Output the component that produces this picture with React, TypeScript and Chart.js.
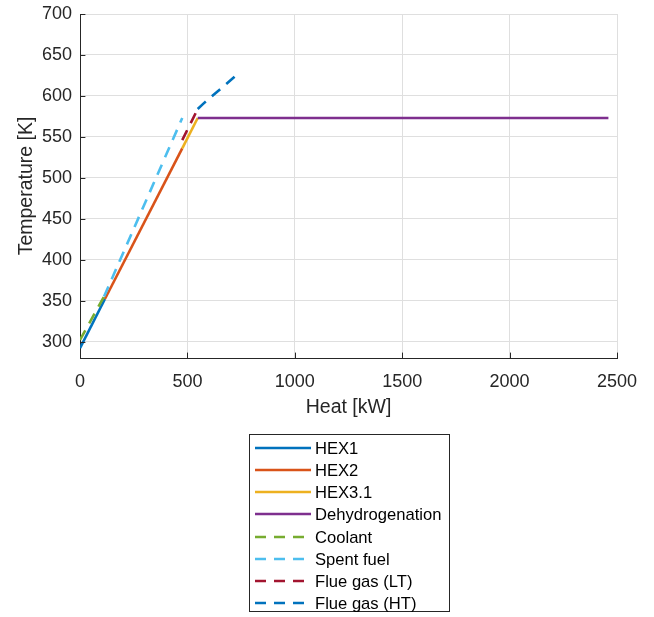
import React, { useEffect, useRef } from "react";
import { Chart, registerables } from "chart.js";

Chart.register(...registerables);

// ---- data ----
const hex1Heat = [0, 116];
const hex1Temp = [292, 352];
const hex2Heat = [116, 476];
const hex2Temp = [352, 536];
const hex31Heat = [476, 548];
const hex31Temp = [536, 573];
const dehydHeat = [548, 2460];
const dehydTemp = [573, 573];
const coolantHeat = [0, 112];
const coolantTemp = [302, 355];
const spentHeat = [112, 476];
const spentTemp = [355, 573];
const flueLTHeat = [476, 548];
const flueLTTemp = [546, 584];
const flueHTHeat = [548, 572, 720];
const flueHTTemp = [584, 590, 623.5];

const xTicks = [0, 500, 1000, 1500, 2000, 2500];
const yTicks = [300, 350, 400, 450, 500, 550, 600, 650, 700];

const seriesLabels = [
  "HEX1",
  "HEX2",
  "HEX3.1",
  "Dehydrogenation",
  "Coolant",
  "Spent fuel",
  "Flue gas (LT)",
  "Flue gas (HT)",
];
const seriesHeat = [hex1Heat, hex2Heat, hex31Heat, dehydHeat, coolantHeat, spentHeat, flueLTHeat, flueHTHeat];
const seriesTemp = [hex1Temp, hex2Temp, hex31Temp, dehydTemp, coolantTemp, spentTemp, flueLTTemp, flueHTTemp];
const seriesColors = ["#0072BD", "#D95319", "#EDB120", "#7E2F8E", "#77AC30", "#4DBEEE", "#A2142F", "#0072BD"];
const seriesDashed = [false, false, false, false, true, true, true, true];

const FONT = '"Liberation Sans", Arial, Helvetica, sans-serif';
const AXIS_COLOR = "#262626";
const DASH = [11, 8];

const boxLegend = {
  id: "boxLegend",
  afterDraw(chart: any) {
    const ctx = chart.ctx as CanvasRenderingContext2D;
    ctx.save();
    const bx = 249.5, by = 434.5, bw = 200, bh = 177;
    ctx.fillStyle = "#ffffff";
    ctx.fillRect(bx, by, bw, bh);
    ctx.strokeStyle = AXIS_COLOR;
    ctx.lineWidth = 1;
    ctx.setLineDash([]);
    ctx.strokeRect(bx, by, bw, bh);
    chart.data.datasets.forEach((ds: any, i: number) => {
      const y = Math.round(447.7 + i * 22.2);
      ctx.beginPath();
      ctx.setLineDash(ds.borderDash || []);
      ctx.strokeStyle = ds.borderColor;
      ctx.lineWidth = ds.borderWidth;
      ctx.moveTo(255, y);
      ctx.lineTo(311, y);
      ctx.stroke();
      ctx.setLineDash([]);
      ctx.fillStyle = "#000000";
      ctx.font = `16.6px ${FONT}`;
      ctx.textBaseline = "middle";
      ctx.textAlign = "left";
      ctx.fillText(ds.label, 315, y + 1);
    });
    ctx.restore();
  },
};

const innerTicks = {
  id: "innerTicks",
  afterDraw(chart: any) {
    const ctx = chart.ctx as CanvasRenderingContext2D;
    const { left, bottom } = chart.chartArea;
    const len = 5.4;
    ctx.save();
    ctx.strokeStyle = AXIS_COLOR;
    ctx.lineWidth = 1;
    ctx.beginPath();
    yTicks.forEach((v) => {
      const y = Math.round(chart.scales.y.getPixelForValue(v)) + 0.5;
      ctx.moveTo(left, y);
      ctx.lineTo(left + len, y);
    });
    xTicks.forEach((v) => {
      const x = Math.round(chart.scales.x.getPixelForValue(v)) + 0.5;
      ctx.moveTo(x, bottom);
      ctx.lineTo(x, bottom - len);
    });
    ctx.stroke();
    ctx.restore();
  },
};

export default function App() {
  const canvasRef = useRef<HTMLCanvasElement | null>(null);

  useEffect(() => {
    const canvas = canvasRef.current;
    if (!canvas) return;
    const n = seriesLabels.length;
    const datasets = seriesLabels.map((label, i) => ({
      label,
      data: seriesHeat[i].map((h, j) => ({ x: h, y: seriesTemp[i][j] })),
      borderColor: seriesColors[i],
      backgroundColor: seriesColors[i],
      borderWidth: 2.6,
      borderDash: seriesDashed[i] ? DASH : [],
      pointRadius: 0,
      fill: false,
      tension: 0,
      order: n - i,
    }));

    const chart = new Chart(canvas, {
      type: "line",
      data: { datasets },
      options: {
        responsive: false,
        animation: false,
        devicePixelRatio: 1,
        layout: { padding: { left: 0, top: 14, right: 37, bottom: 197 } },
        plugins: { legend: { display: false }, tooltip: { enabled: false } },
        scales: {
          x: {
            type: "linear",
            min: 0,
            max: 2500,
            afterBuildTicks: (s: any) => {
              s.ticks = xTicks.map((v) => ({ value: v }));
            },
            afterFit: (s: any) => {
              s.height = 62;
              s.paddingLeft = 0;
              s.paddingRight = 0;
            },
            grid: { color: "#dfdfdf", lineWidth: 1, drawTicks: false },
            border: { display: true, color: AXIS_COLOR, width: 1 },
            ticks: {
              color: AXIS_COLOR,
              font: { family: FONT, size: 18 },
              padding: 13,
              maxRotation: 0,
              autoSkip: false,
              callback: (v: any) => String(v),
            },
            title: {
              display: true,
              text: "Heat [kW]",
              color: AXIS_COLOR,
              font: { family: FONT, size: 19.5 },
              padding: { top: 0, bottom: 1 },
            },
          },
          y: {
            type: "linear",
            min: 280,
            max: 700,
            afterBuildTicks: (s: any) => {
              s.ticks = yTicks.map((v) => ({ value: v }));
            },
            afterFit: (s: any) => {
              s.width = 80;
              s.paddingTop = 0;
              s.paddingBottom = 0;
            },
            grid: { color: "#dfdfdf", lineWidth: 1, drawTicks: false },
            border: { display: true, color: AXIS_COLOR, width: 1 },
            ticks: {
              color: AXIS_COLOR,
              font: { family: FONT, size: 18 },
              padding: 8,
              autoSkip: false,
              callback: (v: any) => String(v),
            },
            title: {
              display: true,
              text: "Temperature [K]",
              color: AXIS_COLOR,
              font: { family: FONT, size: 19.5 },
              padding: { top: 14.6, bottom: 0 },
            },
          },
        },
      },
      plugins: [innerTicks, boxLegend],
    });

    return () => {
      chart.destroy();
    };
  }, []);

  return (
    <div style={{ position: "absolute", left: 0, top: 0, width: 654, height: 617, background: "#ffffff" }}>
      <canvas ref={canvasRef} width={654} height={617} style={{ width: 654, height: 617, display: "block" }} />
    </div>
  );
}
